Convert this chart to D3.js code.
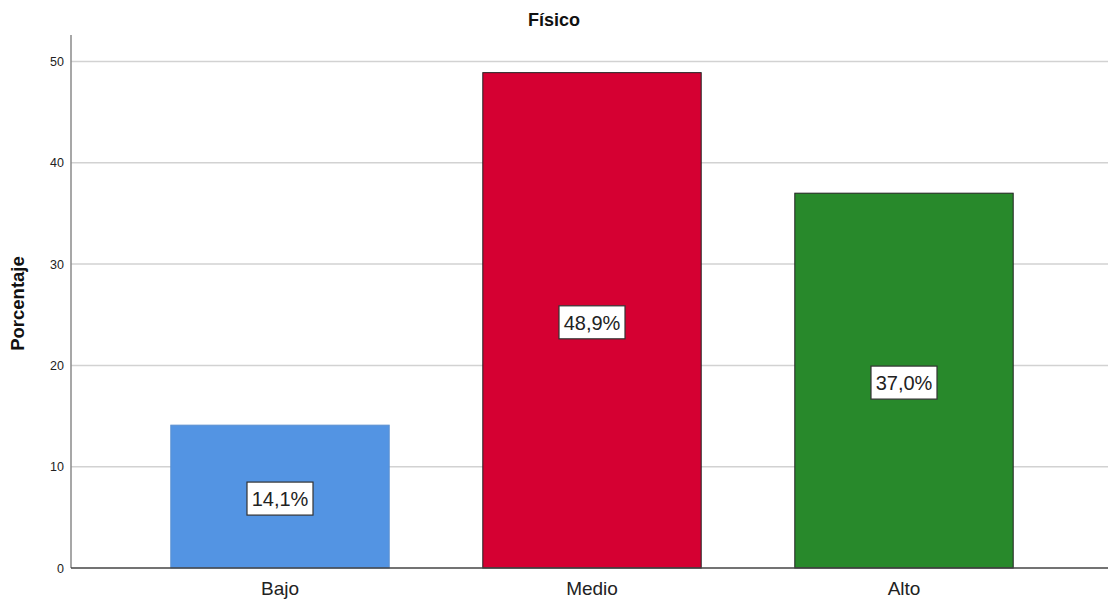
<!DOCTYPE html>
<html>
<head>
<meta charset="utf-8">
<script src="https://cdn.jsdelivr.net/npm/d3@7"></script>
<style>
  html, body { margin: 0; padding: 0; background: #fff; }
  svg { display: block; }
</style>
</head>
<body>
<svg id="chart" width="1108" height="603"></svg>
<script>
// Chart data
const categories = ["Bajo", "Medio", "Alto"];
const values = [14.1, 48.9, 37.0];
const valueLabels = ["14,1%", "48,9%", "37,0%"];
const barColors = ["#5394e3", "#d50032", "#28892b"];
const yTicks = [0, 10, 20, 30, 40, 50];

const svg = d3.select("#chart");
const plot = { left: 71, right: 1108, top: 35, bottom: 568 };

const y = d3.scaleLinear().domain([0, 50]).range([plot.bottom, 61.5]);
const x = d3.scaleBand()
  .domain(categories)
  .range([124, 1060])
  .paddingInner(0.3)
  .paddingOuter(0.15);

// Gridlines
svg.append("g")
  .selectAll("line")
  .data(yTicks.filter(d => d > 0))
  .join("line")
  .attr("x1", plot.left).attr("x2", plot.right)
  .attr("y1", d => y(d)).attr("y2", d => y(d))
  .attr("stroke", "#d2d2d2")
  .attr("stroke-width", 1.5);

// Y axis
const yAxis = svg.append("g")
  .attr("transform", `translate(${plot.left},0)`)
  .call(d3.axisLeft(y).tickValues(yTicks).tickSize(0).tickPadding(7).tickFormat(d3.format("d")));
yAxis.select(".domain").remove();
yAxis.selectAll("text")
  .attr("font-family", "Liberation Sans, Arial, sans-serif")
  .attr("font-size", 12.5)
  .attr("fill", "#222");
svg.append("line")
  .attr("x1", plot.left).attr("x2", plot.left)
  .attr("y1", plot.top).attr("y2", plot.bottom)
  .attr("stroke", "#8a8a8a").attr("stroke-width", 1.5);

// Bars
svg.append("g")
  .selectAll("rect")
  .data(categories)
  .join("rect")
  .attr("x", d => x(d))
  .attr("width", x.bandwidth())
  .attr("y", (d, i) => y(values[i]))
  .attr("height", (d, i) => y(0) - y(values[i]))
  .attr("fill", (d, i) => barColors[i])
  .attr("stroke", (d, i) => i === 0 ? "#5a8fd0" : "#222")
  .attr("stroke-width", 1);

// X axis baseline and labels
svg.append("line")
  .attr("x1", plot.left).attr("x2", plot.right)
  .attr("y1", plot.bottom).attr("y2", plot.bottom)
  .attr("stroke", "#444").attr("stroke-width", 1.5);

const xAxis = svg.append("g")
  .attr("transform", `translate(0,${plot.bottom})`)
  .call(d3.axisBottom(x).tickSize(0).tickPadding(14));
xAxis.select(".domain").remove();
xAxis.selectAll("text")
  .attr("font-family", "Liberation Sans, Arial, sans-serif")
  .attr("font-size", 19)
  .attr("fill", "#222");

// Value labels in boxes
const labels = svg.append("g")
  .selectAll("g")
  .data(categories)
  .join("g")
  .attr("transform", (d, i) => `translate(${x(d) + x.bandwidth() / 2},${y(values[i] / 2) + 2})`);
labels.append("rect")
  .attr("x", -33).attr("y", -16.5)
  .attr("width", 66).attr("height", 33)
  .attr("fill", "#fff")
  .attr("stroke", "#333").attr("stroke-width", 1.2);
labels.append("text")
  .attr("text-anchor", "middle")
  .attr("dy", "0.36em")
  .attr("font-family", "Liberation Sans, Arial, sans-serif")
  .attr("font-size", 20)
  .attr("fill", "#222")
  .text((d, i) => valueLabels[i]);

// Title
svg.append("text")
  .attr("x", 554).attr("y", 26)
  .attr("text-anchor", "middle")
  .attr("font-family", "Liberation Sans, Arial, sans-serif")
  .attr("font-size", 18)
  .attr("font-weight", "bold")
  .attr("fill", "#111")
  .text("Físico");

// Y axis title
svg.append("text")
  .attr("transform", `translate(24,${(plot.top + plot.bottom) / 2 + 2}) rotate(-90)`)
  .attr("text-anchor", "middle")
  .attr("font-family", "Liberation Sans, Arial, sans-serif")
  .attr("font-size", 18.5)
  .attr("font-weight", "bold")
  .attr("fill", "#111")
  .text("Porcentaje");
</script>
</body>
</html>
